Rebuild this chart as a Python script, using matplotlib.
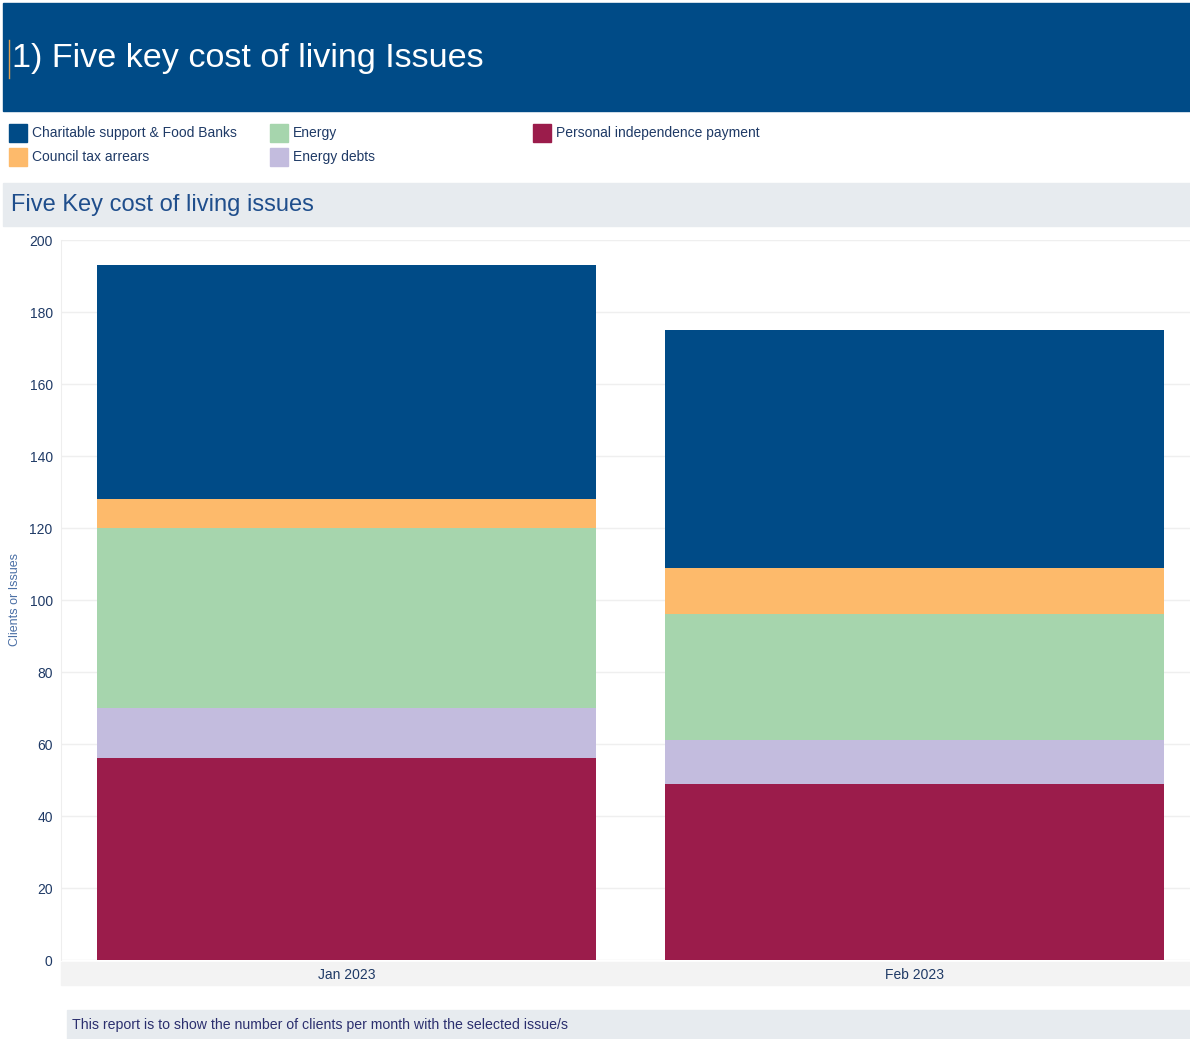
import numpy as np
import matplotlib.pyplot as plt
from matplotlib.patches import Rectangle

plt.rcParams['font.family'] = ['Liberation Sans', 'DejaVu Sans']

# Data
months = ["Jan 2023", "Feb 2023"]
pip = [56, 49]
energy_debts = [14, 12]
energy = [50, 35]
council_tax = [8, 13]
charitable = [65, 66]

series = [
    ("Personal independence payment", pip, "#9b1c4b"),
    ("Energy debts", energy_debts, "#c3bcde"),
    ("Energy", energy, "#a6d5ad"),
    ("Council tax arrears", council_tax, "#fdba6b"),
    ("Charitable support & Food Banks", charitable, "#004b87"),
]
colors = {name: c for name, _, c in series}

W, H = 1190, 1039
fig = plt.figure(figsize=(W / 100, H / 100), dpi=100)


def fx(px):
    return px / W


def fy(py):
    return 1 - py / H


def band(x0, y0, x1, y1, color):
    fig.patches.append(Rectangle((fx(x0), fy(y1)), (x1 - x0) / W, (y1 - y0) / H,
                                 transform=fig.transFigure, color=color, zorder=-1))


# Header band
band(3, 3, 1190, 111, "#004b87")
fig.text(fx(12), fy(59), "1) Five key cost of living Issues", color="white",
         fontsize=24.6, va="center", ha="left")
fig.add_artist(plt.Line2D([fx(9), fx(9)], [fy(40), fy(78)], color="#e0a050",
                          lw=1, transform=fig.transFigure))

# Legend
legend_items = [
    ("Charitable support & Food Banks", 9, 133),
    ("Council tax arrears", 9, 157),
    ("Energy", 270, 133),
    ("Energy debts", 270, 157),
    ("Personal independence payment", 533, 133),
]
for name, lx, ly in legend_items:
    fig.patches.append(Rectangle((fx(lx), fy(ly + 9)), 18 / W, 18 / H,
                                 transform=fig.transFigure, color=colors[name]))
    fig.text(fx(lx + 23), fy(ly), name, color="#1f3a66", fontsize=10,
             va="center", ha="left")

# Subtitle band
band(3, 183, 1190, 226, "#e7ebef")
fig.text(fx(11), fy(205), "Five Key cost of living issues", color="#1f4e8c",
         fontsize=17, va="center", ha="left")

# x-axis band
band(61, 962, 1190, 985, "#f3f3f3")

# Footnote band
band(67, 1010, 1190, 1039, "#e7ebef")
fig.text(fx(72), fy(1025), "This report is to show the number of clients per month with the selected issue/s",
         color="#2b2f6e", fontsize=10.2, va="center", ha="left")

# Plot
ax = fig.add_axes([fx(61), fy(960), 1129 / W, 720 / H])
ax.set_facecolor("none")
x = np.arange(len(months))
bottom = np.zeros(len(months))
for name, vals, c in series:
    ax.bar(x, vals, width=0.879, bottom=bottom, color=c, linewidth=0, zorder=3)
    bottom += np.array(vals)

ax.set_xlim(-0.503, 1.486)
ax.set_ylim(0, 200)
ax.set_yticks(np.arange(0, 201, 20))
ax.grid(axis="y", color="#efefef", linewidth=1, zorder=0)
ax.set_xticks(x)
ax.set_xticklabels(months)
for s in ["top", "right", "bottom"]:
    ax.spines[s].set_visible(False)
ax.spines["left"].set_color("#eeeeee")
ax.tick_params(axis="both", length=0, labelsize=10, colors="#1f3a66")
ax.tick_params(axis="x", pad=6)
ax.tick_params(axis="y", pad=6)
ax.set_ylabel("Clients or Issues", fontsize=9, color="#4a6fa5", labelpad=6)

fig.savefig("out.png", dpi=100)
